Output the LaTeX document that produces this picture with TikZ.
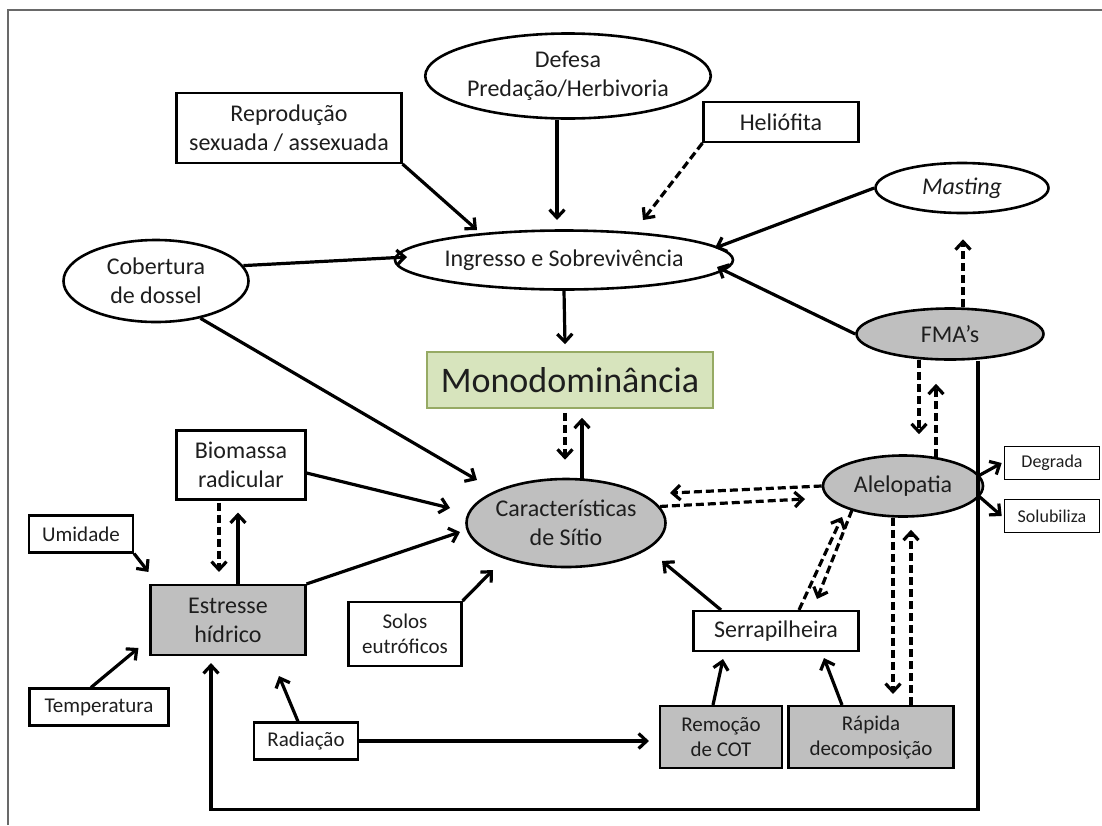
\documentclass[tikz,border=0pt]{standalone}
\usepackage{fontspec}
\setmainfont{Carlito}
\usepackage{tikz}
\usetikzlibrary{arrows.meta,positioning,shapes.geometric,calc}
\definecolor{cinzaclaro}{RGB}{191,191,191}
\definecolor{verdeclaro}{RGB}{215,228,189}
\definecolor{verdeescuro}{RGB}{150,170,100}
\definecolor{moldura}{RGB}{105,105,105}
\definecolor{texto}{RGB}{30,30,30}
\tikzset{
  caixa/.style={rectangle,draw,line width=2.1pt,fill=white,align=center,
    inner sep=1pt,text=texto,font=\fontsize{24}{29}\selectfont},
  caixacinza/.style={caixa,fill=cinzaclaro},
  caixapeq/.style={caixa,font=\fontsize{21}{25}\selectfont},
  caixacinzapeq/.style={caixapeq,fill=cinzaclaro},
  caixamini/.style={caixa,line width=1.6pt,font=\fontsize{18}{22}\selectfont},
  elipse/.style={ellipse,draw,line width=2.6pt,fill=white,align=center,
    inner sep=0pt,text=texto,font=\fontsize{24}{29}\selectfont},
  elipsecinza/.style={elipse,fill=cinzaclaro},
  destaque/.style={rectangle,draw=verdeescuro,fill=verdeclaro,line width=1.5pt,
    text=texto,font=\fontsize{36}{40}\selectfont},
  seta/.style={line width=3.2pt,-{Straight Barb[length=8pt,width=15pt]}},
  setatrac/.style={seta,dash pattern=on 8pt off 4pt}
}

\begin{document}
\begin{tikzpicture}[x=1pt,y=-1pt]
\useasboundingbox (0,0) rectangle (1102,825);
\draw[moldura,line width=1.5pt] (8,825) -- (8,10) -- (1102,10);

% nos
\node[elipse,minimum width=269pt,minimum height=85pt] (def) at (568,76) {Defesa\\Predação/Herbivoria};
\node[caixa,minimum width=225pt,minimum height=70pt] (rep) at (289,128) {Reprodução\\sexuada / assexuada};
\node[caixa,minimum width=155pt,minimum height=40pt] (hel) at (781,122) {Heliófita};
\node[elipse,minimum width=173pt,minimum height=50pt] (mast) at (962,188) {\textit{Masting}};
\node[elipse,minimum width=275pt,minimum height=59pt] (ing) at (564,260) {Ingresso e Sobrevivência};
\node[elipse,minimum width=185pt,minimum height=82pt] (cob) at (156,281) {Cobertura\\de dossel};
\node[elipsecinza,minimum width=187pt,minimum height=51pt] (fma) at (950,334) {FMA’s};
\node[destaque,minimum width=286pt,minimum height=56pt] (mono) at (570,380) {Monodominância};
\node[elipsecinza,minimum width=192pt,minimum height=88pt] (car) at (566,523) {Características\\de Sítio};
\node[elipsecinza,minimum width=160pt,minimum height=61pt] (alel) at (903,486) {Alelopatia};
\node[caixamini,minimum width=95pt,minimum height=33pt] (deg) at (1052,463) {Degrada};
\node[caixamini,minimum width=95pt,minimum height=33pt] (sol) at (1052,516) {Solubiliza};
\node[caixa,minimum width=165pt,minimum height=40pt] (serr) at (776,631) {Serrapilheira};
\node[caixacinzapeq,minimum width=122pt,minimum height=62pt] (rem) at (721,737) {Remoção\\de COT};
\node[caixacinzapeq,minimum width=165pt,minimum height=62pt] (rap) at (871,737) {Rápida\\decomposição};
\node[caixacinza,minimum width=155pt,minimum height=70pt] (est) at (228,620) {Estresse\\hídrico};
\node[caixa,minimum width=129pt,minimum height=69pt] (bio) at (241,465) {Biomassa\\radicular};
\node[caixapeq,minimum width=104pt,minimum height=37pt] (umi) at (81,534) {Umidade};
\node[caixapeq,minimum width=139pt,minimum height=37pt] (temp) at (99,707) {Temperatura};
\node[caixapeq,minimum width=104pt,minimum height=37pt] (rad) at (306,741) {Radiação};
\node[caixapeq,minimum width=113pt,minimum height=64pt] (solos) at (405,634) {Solos\\eutróficos};

% setas para o ingresso
\draw[seta] ($(def.south)+(-11,0)$) -- ($(ing)+(-7,-40)$);
\draw[seta] (rep.south east) -- ($(ing)+(-87,-30)$);
\draw[setatrac] (hel.south west) -- ($(ing)+(79,-40)$);
\draw[seta] (mast.west) -- ($(ing)+(151,-12)$);
\draw[seta] (fma.west) -- ($(ing)+(153,7)$);
\draw[seta] (cob.10) -- ($(ing)+(-157,-3)$);
\draw[setatrac] ($(fma.north)+(13,0)$) -- ($(mast.south)+(1,25)$);
\draw[seta] (ing.south) -- ($(mono.north)+(-5,-7)$);

% caracteristicas de sitio
\draw[setatrac] ($(mono.south)+(-5,4)$) -- ($(car.north)+(-1,-18)$);
\draw[seta] ($(car.north)+(16,1)$) -- ($(mono.south)+(12,9)$);
\draw[seta] (cob.-40) -- ($(car)+(-89,-43)$);
\draw[seta] ($(bio.east)+(0,8)$) -- ($(car)+(-116,-15)$);
\draw[seta] (est.north east) -- ($(car)+(-106,9)$);
\draw[seta] (solos.north east) -- ($(car)+(-73,47)$);
\draw[seta] ($(serr.north)+(-55,0)$) -- ($(car)+(96,38)$);
\draw[setatrac] (alel.west) -- ($(car)+(104,-30)$);
\draw[setatrac] (car.10) -- ($(alel)+(-98,13)$);

% alelopatia
\draw[setatrac] ($(fma.south)+(-31,-1)$) -- ($(alel.north)+(16,-20)$);
\draw[setatrac] ($(alel.north)+(33,3)$) -- ($(fma.south)+(-14,23)$);
\draw[seta] (alel.8) -- ($(deg.west)+(-2,0)$);
\draw[seta] (alel.-8) -- ($(sol.west)+(-2,0)$);
\draw[setatrac] ($(serr.north)+(23,0)$) -- ($(alel)+(-61,31)$);
\draw[setatrac] ($(alel)+(-51,24)$) -- ($(serr.north)+(41,-11)$);
\draw[setatrac] ($(alel.south)+(-10,0)$) -- ($(rap.north)+(22,-11)$);
\draw[setatrac] ($(rap.north)+(40,0)$) -- ($(alel.south)+(8,12)$);
\draw[seta] ($(rem.north)+(-8,0)$) -- ($(serr.south)+(-53,7)$);
\draw[seta] ($(rap.north)+(-29,0)$) -- ($(serr.south)+(48,6)$);

% estresse hidrico
\draw[seta] (rad.east) -- ($(rem.west)+(-10,4)$);
\draw[seta] ($(rad.north)+(-8,0)$) -- ($(est.south)+(51,20)$);
\draw[seta] ($(temp.north)+(-8,0)$) -- ($(est.west)+(-11,28)$);
\draw[seta] (umi.south east) -- ($(est.north west)+(-1,-12)$);
\draw[setatrac] ($(bio.south)+(-22,2)$) -- ($(est.north)+(-9,-12)$);
\draw[seta] ($(est.north)+(10,0)$) -- ($(bio.south)+(-3,12)$);
\draw[seta] ($(fma.south)+(28,0)$) -- ++(0,449) -| ($(est.south)+(-17,7)$);
\end{tikzpicture}
\end{document}
